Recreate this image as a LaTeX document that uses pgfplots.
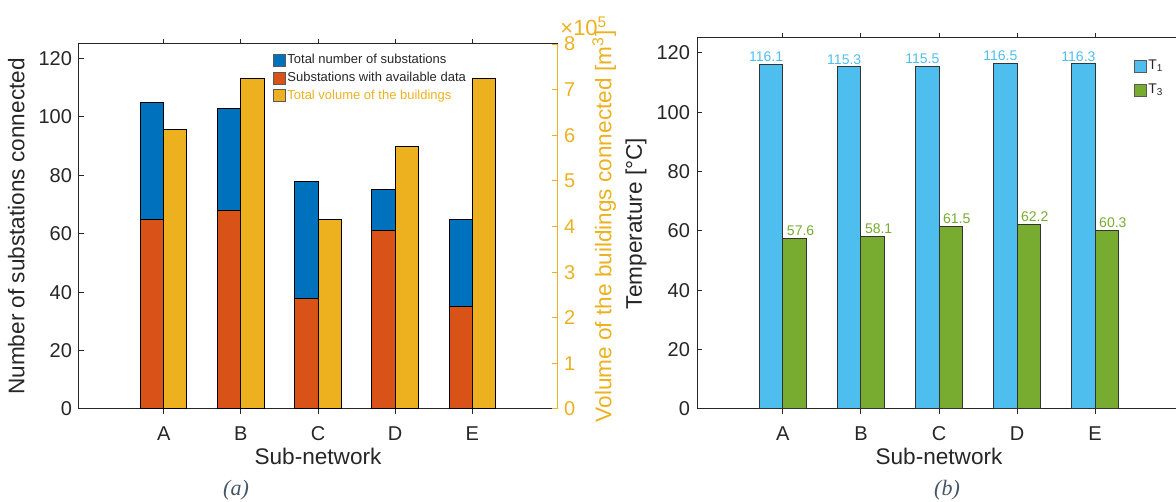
\documentclass[border=0pt]{standalone}
\usepackage{pgfplots}
\pgfplotsset{compat=1.18}
\usepackage{fontspec}
\setmainfont{Liberation Sans}
\newfontfamily\capfont{Liberation Serif}
\definecolor{mblue}{HTML}{0072BD}
\definecolor{morange}{HTML}{D95319}
\definecolor{myellow}{HTML}{EDB120}
\definecolor{mlblue}{HTML}{4DBEEE}
\definecolor{mgreen}{HTML}{77AC30}
\definecolor{axgray}{HTML}{262626}
\definecolor{capcol}{HTML}{445469}
\pgfplotsset{
  sqlegend/.style={legend image code/.code={\draw[##1,/tikz/.cd,draw=black!65,line width=0.4pt] (0pt,-3pt) rectangle (6pt,3pt);}},
  common/.style={
    scale only axis,
    xmin=-0.1, xmax=6.1,
    xtick={1,2,3,4,5}, xticklabels={A,B,C,D,E},
    /pgf/number format/assume math mode=true,
    tick label style={font=\fontsize{10}{12}\selectfont, color=axgray},
    xticklabel style={inner sep=0pt, yshift=-6pt},
    major tick length=2.5pt,
    tick align=inside,
    axis line style={line width=0.5pt, draw=axgray},
    tick style={line width=0.5pt, draw=axgray},
    label style={font=\fontsize{11.3}{13}\selectfont, color=axgray},
    xlabel style={at={([yshift=-19.5pt]rel axis cs:0.5,0)}, anchor=north, inner sep=0pt},
    ybar, bar width=0.3,
    every axis plot post/.append style={sqlegend},
  }
}
\begin{document}
\begin{tikzpicture}
% ---------- (a) left y axis ----------
\begin{axis}[common, at={(0pt,0pt)}, anchor=south west, width=239pt, height=182.5pt,
  ymin=0, ymax=125, ytick={0,20,40,60,80,100,120}, ytick pos=left, xtick pos=both,
  xlabel={Sub-network}, ylabel={Number of substations connected},
  ylabel style={at={([xshift=-27pt]rel axis cs:0,0.5)}, anchor=south, inner sep=0pt}]
\addplot[fill=mblue, draw=black, line width=0.5pt, bar shift=-0.15] coordinates {(1,105) (2,103) (3,78) (4,75) (5,65)};
\addplot[fill=morange, draw=black, line width=0.5pt, bar shift=-0.15] coordinates {(1,65) (2,68) (3,38) (4,61) (5,35)};
\end{axis}
% ---------- (a) right y axis ----------
\begin{axis}[common, at={(0pt,0pt)}, anchor=south west, width=239pt, height=182.5pt,
  clip=false,
  axis x line=none, axis y line*=right,
  ymin=0, ymax=800000, ytick={0,100000,200000,300000,400000,500000,600000,700000,800000},
  scaled y ticks=base 10:-5, ytick scale label code/.code={},
  axis line style={line width=0.5pt, draw=myellow},
  ytick style={draw=myellow},
  yticklabel style={color=myellow},
  ylabel={Volume of the buildings connected [m\textsuperscript{3}]},
  ylabel style={color=myellow, at={([xshift=17.5pt]rel axis cs:1,0.5)}, anchor=north, inner sep=0pt},
  legend style={at={(0.4,0.985)}, anchor=north west, draw=none, fill=none,
    font=\fontsize{6.5}{7}\selectfont, text=axgray, row sep=0.3pt, inner sep=1pt,
    nodes={inner sep=1pt, text height=5pt, text depth=1.5pt}},
  legend cell align=left]
\addlegendimage{sqlegend, fill=mblue, draw=black}
\addlegendentry{Total number of substations}
\addlegendimage{sqlegend, fill=morange, draw=black}
\addlegendentry{Substations with available data}
\addplot[fill=myellow, draw=black, line width=0.5pt, bar shift=0.15] coordinates {(1,613000) (2,725000) (3,416000) (4,575000) (5,725000)};
\addlegendentry{\textcolor{myellow}{Total volume of the buildings}}
\node[anchor=base west, inner sep=0pt, color=myellow, font=\fontsize{11}{13}\selectfont] at ([xshift=1.5pt,yshift=4.5pt]rel axis cs:1,1) {×10\textsuperscript{5}};
\end{axis}
% ---------- (b) ----------
\begin{axis}[common, at={(309pt,0pt)}, anchor=south west, width=242pt, height=185.5pt,
  ymin=0, ymax=125, ytick={0,20,40,60,80,100,120}, ytick pos=both, xtick pos=both,
  xlabel={Sub-network}, ylabel={Temperature [°C]},
  ylabel style={at={([xshift=-25pt]rel axis cs:0,0.5)}, anchor=south, inner sep=0pt},
  legend style={at={(0.897,0.954)}, anchor=north west, draw=none, fill=none,
    font=\fontsize{7}{8}\selectfont, text=axgray, row sep=3pt, inner sep=1pt,
    nodes={inner sep=1pt, text height=5pt, text depth=2pt}},
  legend cell align=left]
\addplot[fill=mlblue, draw=black!80, line width=0.5pt, bar shift=-0.15,
  nodes near coords={\pgfmathprintnumber[fixed,fixed zerofill,precision=1]{\pgfplotspointmeta}},
  nodes near coords style={font=\fontsize{7}{8}\selectfont, color=mlblue, anchor=south, inner sep=1pt, xshift=-2.5pt}]
  coordinates {(1,116.1) (2,115.3) (3,115.5) (4,116.5) (5,116.3)};
\addlegendentry{T\textsubscript{1}}
\addplot[fill=mgreen, draw=black!80, line width=0.5pt, bar shift=0.15,
  nodes near coords={\pgfmathprintnumber[fixed,fixed zerofill,precision=1]{\pgfplotspointmeta}},
  nodes near coords style={font=\fontsize{7}{8}\selectfont, color=mgreen, anchor=south, inner sep=1pt, xshift=3pt}]
  coordinates {(1,57.6) (2,58.1) (3,61.5) (4,62.2) (5,60.3)};
\addlegendentry{T\textsubscript{3}}
\end{axis}
% ---------- captions ----------
\node[anchor=base, inner sep=0pt, font=\capfont\itshape\fontsize{11}{13}\selectfont, color=capcol] at (78.5pt,-43pt) {(a)};
\node[anchor=base, inner sep=0pt, font=\capfont\itshape\fontsize{11}{13}\selectfont, color=capcol] at (434pt,-43pt) {(b)};
\pgfresetboundingbox
\useasboundingbox (-39.5pt,-46.5pt) rectangle (548.5pt,204.5pt);
\end{tikzpicture}
\end{document}
